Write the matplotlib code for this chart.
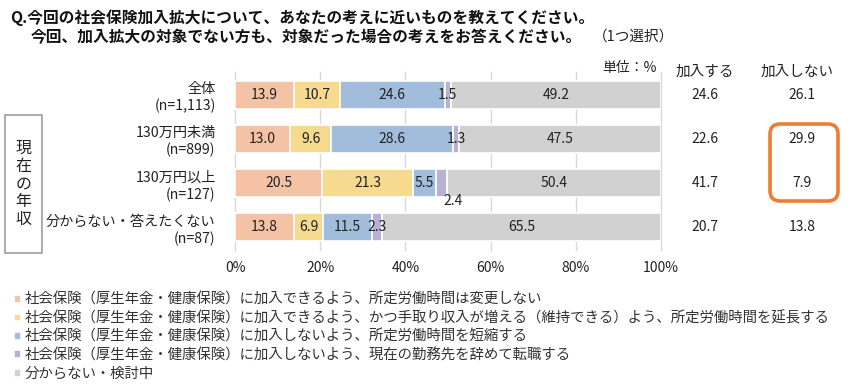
import matplotlib
matplotlib.use("Agg")
import matplotlib.pyplot as plt
from matplotlib.patches import FancyBboxPatch, Rectangle

plt.rcParams["font.family"] = ["Noto Sans CJK JP", "DejaVu Sans"]

# データ
CATS = ["全体\n(n=1,113)", "130万円未満\n(n=899)", "130万円以上\n(n=127)",
        "分からない・答えたくない\n(n=87)"]
S1 = [13.9, 13.0, 20.5, 13.8]   # 加入、時間変更なし
S2 = [10.7, 9.6, 21.3, 6.9]     # 加入、時間延長
S3 = [24.6, 28.6, 5.5, 11.5]    # 加入しない、時間短縮
S4 = [1.5, 1.3, 2.4, 2.3]       # 加入しない、転職
S5 = [49.2, 47.5, 50.4, 65.5]   # 分からない
KANYU = [24.6, 22.6, 41.7, 20.7]
HIKANYU = [26.1, 29.9, 7.9, 13.8]

LEGEND = [
    "社会保険（厚生年金・健康保険）に加入できるよう、所定労働時間は変更しない",
    "社会保険（厚生年金・健康保険）に加入できるよう、かつ手取り収入が増える（維持できる）よう、所定労働時間を延長する",
    "社会保険（厚生年金・健康保険）に加入しないよう、所定労働時間を短縮する",
    "社会保険（厚生年金・健康保険）に加入しないよう、現在の勤務先を辞めて転職する",
    "分からない・検討中",
]
COLORS = ["#F4C2A5", "#F6DA8E", "#A2BDDB", "#B8B1D3", "#D2D1D1"]
XTICKS = [0, 20, 40, 60, 80, 100]

W, H = 850, 391
fig = plt.figure(figsize=(W / 100, H / 100), dpi=100)
ax = fig.add_axes([235 / W, 1 - 250 / H, 426 / W, 178 / H])

series = [S1, S2, S3, S4, S5]
ypos = list(range(len(CATS)))
left = [0.0] * len(CATS)
bars = []
for vals, col, lab in zip(series, COLORS, LEGEND):
    b = ax.barh(ypos, vals, left=left, height=0.64, color=col,
                edgecolor="white", linewidth=1.2, label=lab, zorder=2)
    bars.append(b)
    for i, v in enumerate(vals):
        cx = left[i] + v / 2
        if v == 2.4:
            # 細いセグメントはバーの下に表示
            ax.text(cx + 2.6, i + 0.4, f"{v:.1f}", ha="center", va="center",
                    fontsize=10, color="#222222", zorder=3)
        else:
            ax.text(cx, i, f"{v:.1f}", ha="center", va="center",
                    fontsize=10, color="#222222", zorder=3)
    left = [l + v for l, v in zip(left, vals)]

ax.set_xlim(0, 100)
ax.set_ylim(len(CATS) - 0.48, -0.52)
ax.set_xticks(XTICKS)
ax.set_xticklabels([f"{t}%" for t in XTICKS], fontsize=10, color="#222222")
ax.set_yticks(ypos)
ax.set_yticklabels(CATS, fontsize=10.2, color="#222222", linespacing=1.25)
ax.tick_params(length=0, axis="x", pad=8)
ax.tick_params(length=0, axis="y", pad=14)
ax.grid(axis="x", color="#D9D9D9", linewidth=1, zorder=0)
for gl in ax.get_xgridlines():
    gl.set_clip_on(False)
for s in ax.spines.values():
    s.set_visible(False)
ax.set_axisbelow(True)

# 右側の集計列
tr = ax.get_yaxis_transform()
x_k, x_h = (705 - 235) / 426, (802 - 235) / 426
ax.text((657 - 235) / 426, -0.62, "単位：%", transform=tr, ha="right",
        va="center", fontsize=10, color="#222222")
ax.text(x_k, -0.52, "加入する", transform=tr, ha="center", va="center",
        fontsize=10.5, color="#222222")
ax.text((797 - 235) / 426, -0.52, "加入しない", transform=tr, ha="center",
        va="center", fontsize=10.5, color="#222222")
for i in ypos:
    ax.text(x_k, i, f"{KANYU[i]:.1f}", transform=tr, ha="center", va="center",
            fontsize=10, color="#222222")
    ax.text(x_h, i, f"{HIKANYU[i]:.1f}", transform=tr, ha="center", va="center",
            fontsize=10, color="#222222")

# オレンジの強調枠（インチ単位で角丸を均一に）
fig.patches.append(FancyBboxPatch((7.70, (H - 201) / 100), 0.68, 0.77,
                                  boxstyle="round,pad=0,rounding_size=0.1",
                                  transform=fig.dpi_scale_trans, fill=False,
                                  edgecolor="#ED7D31", linewidth=2.6))

# 左の「現在の年収」枠
fig.patches.append(Rectangle((5 / W, 1 - 253 / H), 37 / W, 138 / H,
                             transform=fig.transFigure, fill=False,
                             edgecolor="#A6A6A6", linewidth=1.3))
fig.text(23.5 / W, 1 - 184 / H, "\n".join("現在の年収"), ha="center",
         va="center", fontsize=11.5, color="#222222", linespacing=1.05)

# タイトル
fig.text(10 / W, 1 - 18 / H,
         "Q.今回の社会保険加入拡大について、あなたの考えに近いものを教えてください。",
         ha="left", va="center", fontsize=11.3, fontweight="bold", color="#111111")
fig.text(31 / W, 1 - 37 / H,
         "今回、加入拡大の対象でない方も、対象だった場合の考えをお答えください。",
         ha="left", va="center", fontsize=11.3, fontweight="bold", color="#111111")
fig.text(593 / W, 1 - 37 / H, "（1つ選択）", ha="left", va="center",
         fontsize=10.5, color="#222222")

# 凡例
fig.legend(handles=bars, labels=LEGEND, loc="upper left",
           bbox_to_anchor=(14 / W, 1 - 293 / H), frameon=False,
           fontsize=10.4, handlelength=0.45, handleheight=0.45,
           handletextpad=0.3, labelspacing=0.3, borderpad=0, borderaxespad=0,
           labelcolor="#333333")

fig.savefig("out.png", dpi=100)
